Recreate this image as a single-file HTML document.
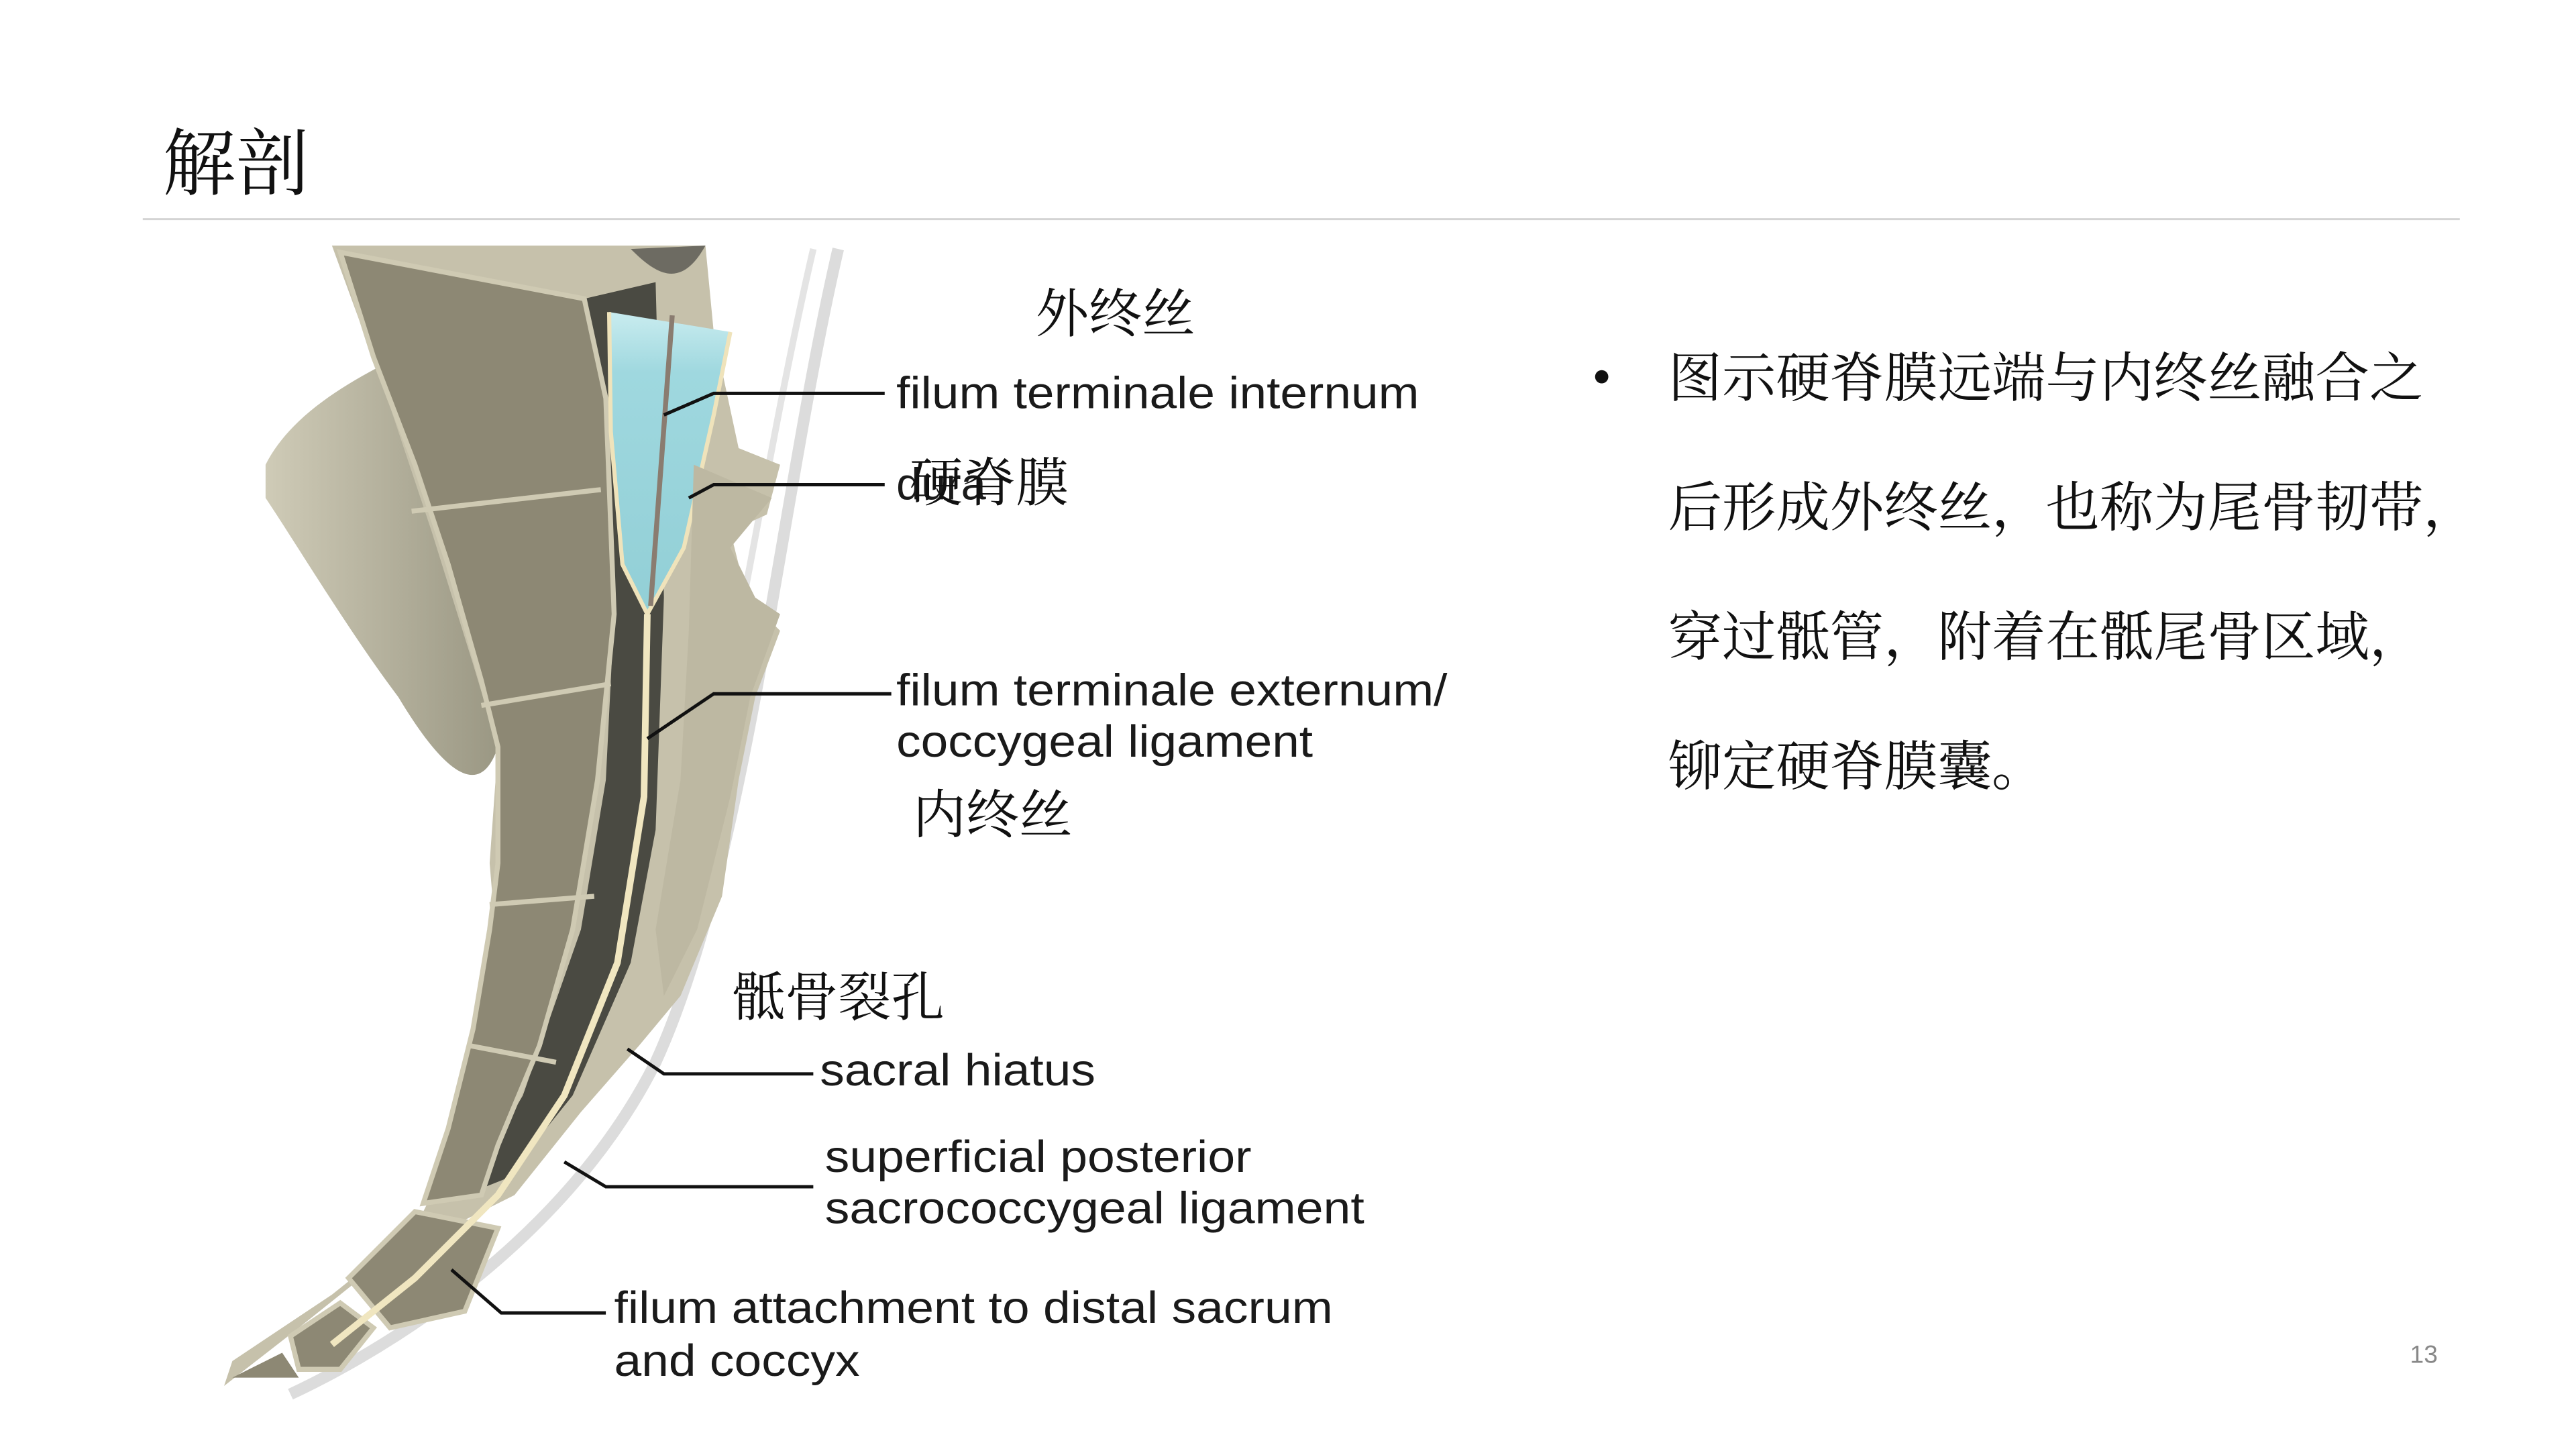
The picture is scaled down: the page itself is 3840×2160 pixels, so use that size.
<!DOCTYPE html>
<html><head><meta charset="utf-8"><style>
html,body{margin:0;padding:0;background:#fff;}
svg{display:block;}
.cn{font-family:"Liberation Serif","Noto Serif CJK SC",serif;fill:#111;}
.en{font-family:"Liberation Sans",sans-serif;fill:#1a1a1a;}
</style></head><body>
<svg width="3840" height="2160" viewBox="0 0 1552 873" xmlns="http://www.w3.org/2000/svg">
<defs>
<linearGradient id="blue" x1="0" y1="0" x2="0" y2="1">
<stop offset="0" stop-color="#c9ecef"/><stop offset="0.2" stop-color="#9fd8df"/><stop offset="1" stop-color="#92cfd6"/>
</linearGradient>
<linearGradient id="wing" x1="0" y1="0" x2="1" y2="0">
<stop offset="0" stop-color="#cfcbb7"/><stop offset="1" stop-color="#9a9783"/>
</linearGradient>
</defs>
<rect width="1552" height="873" fill="#fff"/>
<text x="98" y="114" class="cn" font-size="44">解剖</text>
<line x1="86" y1="132" x2="1482" y2="132" stroke="#d4d4d4" stroke-width="1.2"/>

<path d="M505,150 C470,300 450,520 395,640 C350,730 260,800 175,840" fill="none" stroke="#dcdcdc" stroke-width="7"/>
<path d="M490,150 C455,300 430,500 385,620" fill="none" stroke="#e4e4e4" stroke-width="4"/>

<path d="M160,280 C175,250 210,230 240,215 C270,230 285,270 300,320 C305,360 290,400 300,450 C290,480 270,470 240,420 C210,380 180,330 160,300 Z" fill="url(#wing)"/>
<path d="M200,148 L425,148 L430,200 L445,270 L470,280 L462,310 L440,320 L450,360 L470,380 L455,420 L445,470 L435,540 L410,600 L385,630 L350,670 L310,720 L230,760 L180,800 L135,835 L140,820 L200,780 L250,740 L270,700 L285,640 L300,580 L295,520 L300,450 L285,400 L260,320 L230,230 Z" fill="#c6c1ab"/>
<path d="M352,180 L395,170 L400,360 L395,500 L380,580 L345,660 L305,710 L280,720 L315,660 L350,560 L365,470 L370,370 L365,250 Z" fill="#4a4a42"/>
<path d="M205,152 L352,180 L365,240 L370,370 L360,470 L345,560 L325,630 L300,690 L290,720 L255,725 L270,680 L285,620 L295,560 L300,520 L300,450 L290,410 L270,340 L250,280 L225,215 Z" fill="#8d8874" stroke="#cfcab3" stroke-width="3"/>
<line x1="248" y1="308" x2="362" y2="295" stroke="#cfcab3" stroke-width="3"/>
<line x1="290" y1="425" x2="368" y2="412" stroke="#cfcab3" stroke-width="3"/>
<line x1="295" y1="545" x2="358" y2="540" stroke="#cfcab3" stroke-width="3"/>
<line x1="283" y1="630" x2="335" y2="640" stroke="#cfcab3" stroke-width="3"/>
<path d="M210,770 L250,730 L300,740 L280,790 L235,800 Z" fill="#8d8874" stroke="#cfcab3" stroke-width="3"/>
<path d="M175,805 L205,785 L225,800 L205,825 L180,825 Z" fill="#8d8874" stroke="#cfcab3" stroke-width="3"/>
<path d="M140,830 L170,815 L180,830 Z" fill="#8d8874"/>
<path d="M367,188 L440,200 L430,250 L412,330 L390,370 L375,340 L368,260 Z" fill="url(#blue)"/>
<path d="M367,188 L368,260 L375,340 L390,370 L412,330 L430,250 L440,200" fill="none" stroke="#efe3bb" stroke-width="2.5"/>
<line x1="405" y1="190" x2="392" y2="365" stroke="#8a7c70" stroke-width="3"/>
<path d="M390,370 L388,480 L372,580 L340,660 L300,720 L250,770 L200,810" fill="none" stroke="#f0e6c0" stroke-width="4"/>
<path d="M418,280 L465,300 L440,330 L455,360 L470,370 L452,420 L440,480 L420,560 L400,600 L395,560 L410,470 L415,380 Z" fill="#bdb8a2"/>
<path d="M380,150 C395,165 410,175 425,148 Z" fill="#6d6b62"/>

<g stroke="#111" stroke-width="2" fill="none">
<polyline points="400,250 430,237 533,237"/>
<polyline points="415,300 430,292 533,292"/>
<polyline points="390,445 430,418 537,418"/>
<polyline points="378,632 400,647 490,647"/>
<polyline points="340,700 365,715 490,715"/>
<polyline points="272,765 302,791 365,791"/>
</g>

<g class="en" font-size="27">
<text x="540" y="246" textLength="315" lengthAdjust="spacingAndGlyphs">filum terminale internum</text>
<text x="540" y="301">dura</text>
<text x="540" y="425" textLength="332" lengthAdjust="spacingAndGlyphs">filum terminale externum/</text>
<text x="540" y="456" textLength="251" lengthAdjust="spacingAndGlyphs">coccygeal ligament</text>
<text x="494" y="654" textLength="166" lengthAdjust="spacingAndGlyphs">sacral hiatus</text>
<text x="497" y="706" textLength="257" lengthAdjust="spacingAndGlyphs">superficial posterior</text>
<text x="497" y="737" textLength="325" lengthAdjust="spacingAndGlyphs">sacrococcygeal ligament</text>
<text x="370" y="797" textLength="433" lengthAdjust="spacingAndGlyphs">filum attachment to distal sacrum</text>
<text x="370" y="829" textLength="148" lengthAdjust="spacingAndGlyphs">and coccyx</text>
</g>
<text x="624" y="200" class="cn" font-size="32">外终丝</text>
<text x="548" y="302" class="cn" font-size="32">硬脊膜</text>
<text x="550" y="502" class="cn" font-size="32">内终丝</text>
<text x="441" y="612" class="cn" font-size="32">骶骨裂孔</text>

<circle cx="965" cy="227" r="4" fill="#111"/>
<g class="cn" font-size="32.5" fill="#111">
<text x="1005" y="239">图示硬脊膜远端与内终丝融合之</text>
<text x="1005" y="317">后形成外终丝，也称为尾骨韧带，</text>
<text x="1005" y="395">穿过骶管，附着在骶尾骨区域，</text>
<text x="1005" y="473">铆定硬脊膜囊。</text>
</g>
<text x="1452" y="821" class="en" font-size="15" style="fill:#888">13</text>
</svg>
</body></html>
